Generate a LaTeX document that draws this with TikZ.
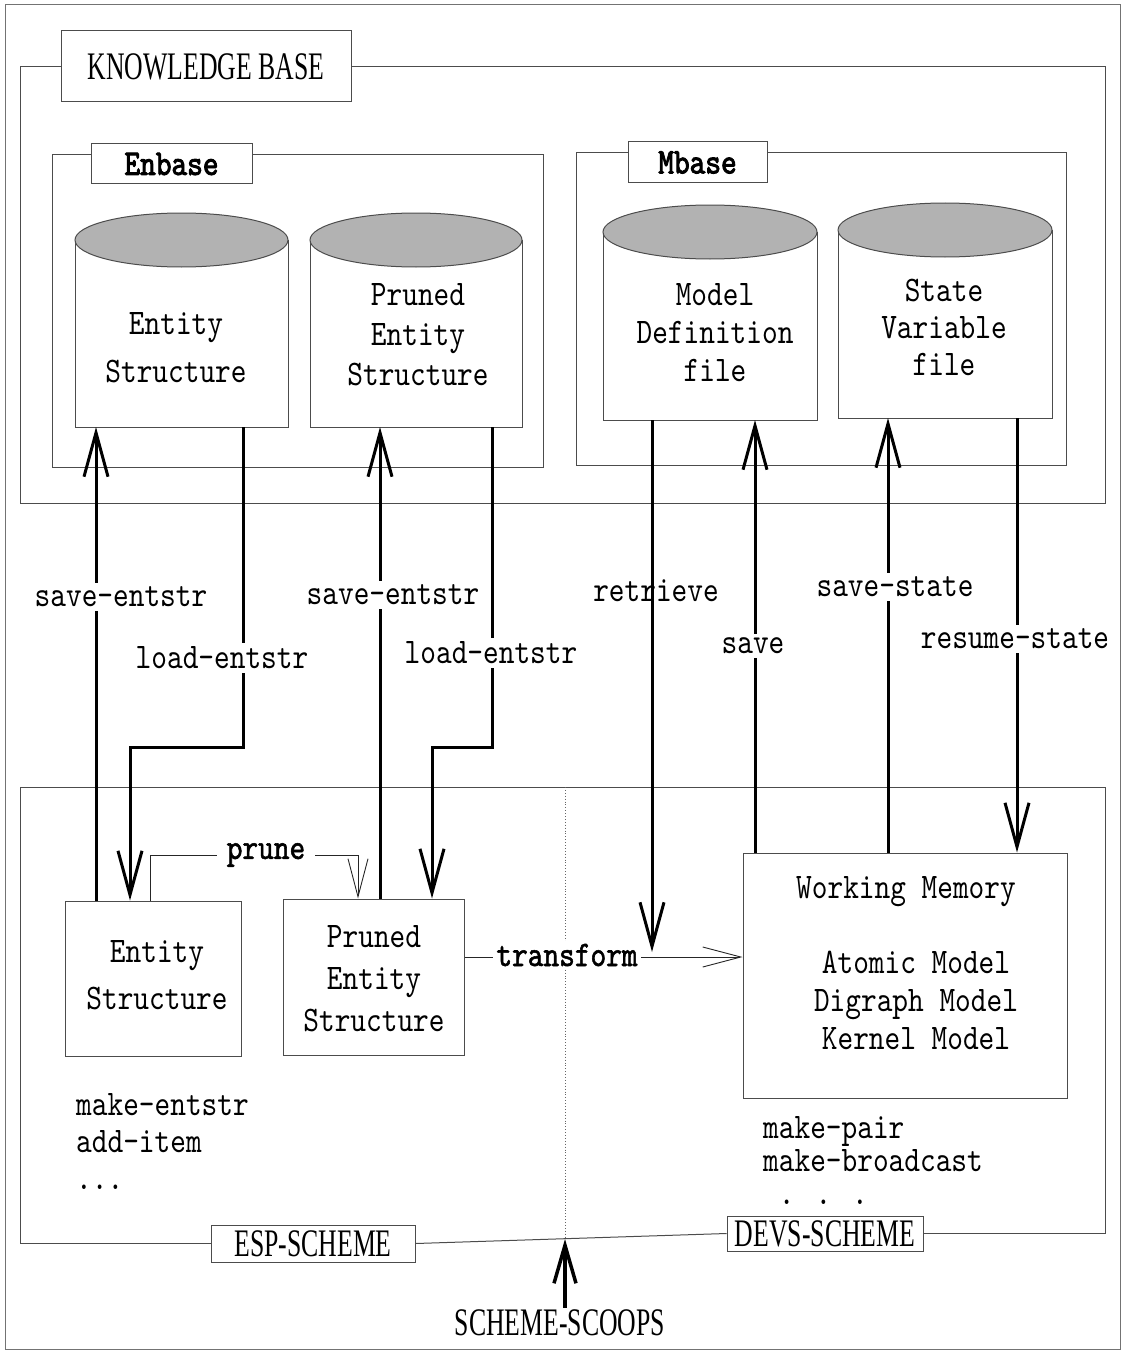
\documentclass[tikz,border=0pt]{standalone}
\usepackage{fontspec}
\usetikzlibrary{arrows.meta}
\newfontfamily\mfont{lmmono10-regular.otf}[FakeStretch=0.83]
\newfontfamily\mbfont{lmmono10-regular.otf}[FakeStretch=0.83,FakeBold=2.5]
\newfontfamily\mmfont{lmmono10-regular.otf}[FakeStretch=0.83,FakeBold=1.5]
\newfontfamily\cfont{Liberation Serif}[FakeStretch=0.66]
\newcommand\txt{\mfont\fontsize{36}{40}\selectfont}
\newcommand\ctxt{\cfont\fontsize{39}{42}\selectfont}
\begin{document}
\begin{tikzpicture}[x=1pt,y=-1pt,
  frame/.style={draw=black!70,line width=1pt},
  lbox/.style={draw=black!70,line width=1pt,fill=white,inner sep=0pt},
  big/.style={line width=3pt,-{Straight Barb[length=44pt,width=24pt]}},
  thinarr/.style={line width=0.9pt,draw=black!85,-{Straight Barb[length=38pt,width=20pt]}},
  lbl/.style={fill=white,inner sep=4pt,font=\txt},
  plain/.style={inner sep=0pt,font=\txt,align=center},
  body/.style={inner sep=0pt,outer sep=0pt}]
\useasboundingbox (0,0) rectangle (1129,1351);
% outer frame
\draw[draw=black!55,line width=0.8pt] (5,4) rectangle (1120,1349);

% ---------------- KNOWLEDGE BASE ----------------
\node[lbox,minimum width=290pt,minimum height=71pt,font=\ctxt] (kb) at (206,66.5) {KNOWLEDGE BASE};
\draw[frame] (kb.west) -- (20,66.5) -- (20,503) -- (1105,503) -- (1105,66.5) -- (kb.east);

% Enbase
\node[lbox,minimum width=161pt,minimum height=40pt,font=\mbfont\fontsize{36}{40}\selectfont] (eb) at (171.5,164) {Enbase};
\draw[frame] (91,155) -- (52,155) -- (52,467) -- (543,467) -- (543,155) -- (252,155);
% Mbase
\node[lbox,minimum width=139pt,minimum height=41pt,font=\mbfont\fontsize{36}{40}\selectfont] (mb) at (697.5,162.5) {Mbase};
\draw[frame] (628,153) -- (576,153) -- (576,465) -- (1066,465) -- (1066,153) -- (767,153);

% cylinders
\node[body,minimum width=213pt,minimum height=187pt,anchor=north] (c1) at (181.5,240) {};
\node[body,minimum width=212pt,minimum height=187pt,anchor=north] (c2) at (416,240) {};
\node[body,minimum width=214pt,minimum height=188pt,anchor=north] (c3) at (710,232) {};
\node[body,minimum width=214pt,minimum height=188pt,anchor=north] (c4) at (945,230) {};
\foreach \c/\rx in {c1/106.5,c2/106,c3/107,c4/107}{
  \draw[frame,fill=white] (\c.north west) -- (\c.south west) -- (\c.south east) -- (\c.north east);
  \draw[frame,fill=gray!60] (\c.north) ellipse [x radius=\rx pt, y radius=27pt];
}
\node[plain,font={\mfont\fontsize{36}{48}\selectfont}] (c1t) at (176,348) {Entity\\Structure};
\node[plain,font={\mfont\fontsize{36}{40}\selectfont}] (c2t) at (418,335) {Pruned\\Entity\\Structure};
\node[plain,font={\mfont\fontsize{36}{38}\selectfont}] (c3t) at (715,333) {Model\\Definition\\file};
\node[plain,font={\mfont\fontsize{36}{37}\selectfont}] (c4t) at (944,327) {State\\Variable\\file};

% ---------------- lower frame ----------------
\node[lbox,minimum width=204pt,minimum height=37pt,font=\ctxt] (esp) at (313,1243.5) {ESP-SCHEME};
\node[lbox,minimum width=196pt,minimum height=35pt,font=\ctxt] (devs) at (825,1233.5) {DEVS-SCHEME};
\draw[frame] (esp.west) -- (20,1243.5) -- (20,787) -- (1105,787) -- (1105,1233.5) -- (devs.east);
\draw[frame] (esp.east) -- (devs.west);
\coordinate (dv) at (565,787);
\coordinate (db) at (565,1239);
\draw[black!60,dotted,line width=0.9pt] (dv) -- (db);

% boxes
\node[frame,fill=white,minimum width=176pt,minimum height=155pt,inner sep=0pt] (es) at (153,978.5) {};
\node[plain,font={\mfont\fontsize{36}{47}\selectfont}] (est) at (157,975) {Entity\\Structure};
\node[frame,fill=white,minimum width=181pt,minimum height=156pt,inner sep=0pt] (pes) at (373.5,977) {};
\node[plain,font={\mfont\fontsize{36}{42}\selectfont}] (pest) at (374,979) {Pruned\\Entity\\Structure};
\node[frame,fill=white,minimum width=324pt,minimum height=245pt,inner sep=0pt] (wm) at (905,975.5) {};
\node[plain] (wmt) at (906,892) {Working Memory};
\node[plain,font={\mfont\fontsize{36}{38}\selectfont}] (wml) at (916,1000) {Atomic Model\\Digraph Model\\Kernel Model};

% lists
\node[plain,align=left,anchor=north west,font={\mfont\fontsize{36}{37}\selectfont}] (ll) at (76,1093) {make-entstr\\add-item\\...};
\node[plain,align=left,anchor=north west,font={\mfont\fontsize{36}{33}\selectfont}] (rl) at (763,1116) {make-pair\\make-broadcast\\~. . .};

% ---------------- connectors ----------------
\coordinate (xa) at (96,0);
\coordinate (k1) at (243,747);
\coordinate (k2) at (130,747);
\coordinate (xb) at (380,0);
\coordinate (k3) at (492,747);
\coordinate (k4) at (432,747);
\coordinate (rt) at (652,952);
\coordinate (xs) at (755,0);
\coordinate (xss) at (888,0);
\coordinate (xrs) at (1017,0);
\coordinate (p1) at (150,855);
\coordinate (p2) at (358,855);
\coordinate (ty) at (0,957);

% prune
\draw[thinarr] (es.north -| p1) -- (p1) -- (p2) -- (pes.north -| p2);
\node[fill=white,inner sep=10pt,font=\mmfont\fontsize{36}{40}\selectfont] (pr) at (266,855) {prune};
% transform
\draw[thinarr] (pes.east |- ty) -- (wm.west |- ty);
\node[fill=white,inner sep=3pt,font=\mmfont\fontsize{36}{40}\selectfont] (tr) at (567,955) {transform};

\draw[big] (es.north -| xa) -- (c1.south -| xa);
\draw[big] (c1.south -| k1) -- (k1) -- (k2) -- (es.north -| k2);
\draw[big] (pes.north -| xb) -- (c2.south -| xb);
\draw[big] (c2.south -| k3) -- (k3) -- (k4) -- (pes.north -| k4);
\draw[big] (c3.south -| rt) -- (rt);
\draw[big] (wm.north -| xs) -- (c3.south -| xs);
\draw[big] (wm.north -| xss) -- (c4.south -| xss);
\draw[big] (c4.south -| xrs) -- (wm.north -| xrs);

\node[lbl] (l1) at (121,597) {save-entstr};
\node[lbl] (l2) at (222,658) {load-entstr};
\node[lbl] (l3) at (393,595) {save-entstr};
\node[lbl] (l4) at (491,653) {load-entstr};
\node[plain] (l5) at (656,591) {retrieve};
\node[lbl] (l6) at (753,646) {save};
\node[lbl] (l7) at (895,587) {save-state};
\node[lbl] (l8) at (1015,639) {resume-state};

% SCHEME-SCOOPS
\node[inner sep=2pt,font=\ctxt] (sc) at (560,1323) {SCHEME-SCOOPS};
\draw[line width=3.5pt,-{Straight Barb[length=38pt,width=22pt]}] (sc.north -| db) -- (db);
\end{tikzpicture}
\end{document}
